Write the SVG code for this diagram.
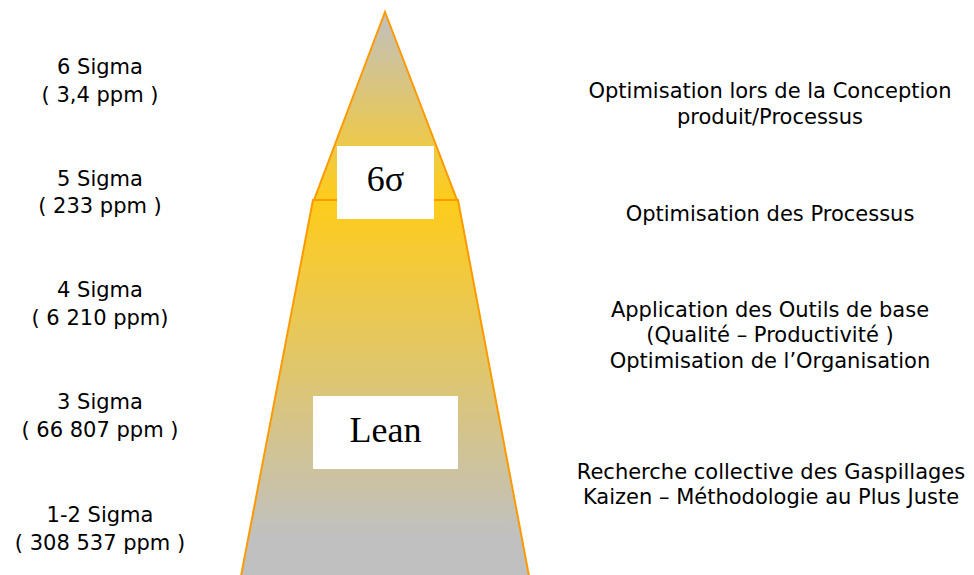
<svg xmlns="http://www.w3.org/2000/svg" width="974" height="575" viewBox="0 0 974 575">
<defs>
<linearGradient id="gTop" gradientUnits="userSpaceOnUse" x1="0" y1="12" x2="0" y2="200">
<stop offset="0" stop-color="#c0c0c0"/>
<stop offset="1" stop-color="#ffcc1a"/>
</linearGradient>
<linearGradient id="gBot" gradientUnits="userSpaceOnUse" x1="0" y1="200" x2="0" y2="575">
<stop offset="0" stop-color="#ffcc1a"/>
<stop offset="0.9" stop-color="#c0c0c0"/>
<stop offset="1" stop-color="#c0c0c0"/>
</linearGradient>
</defs>
<style>
.side{font-family:"DejaVu Sans","Verdana",sans-serif;font-size:21px;fill:#000;text-anchor:middle}
.lbl{font-family:"Liberation Serif","Times New Roman",serif;font-size:36px;fill:#000;text-anchor:middle}
.shape{stroke:#ff9900;stroke-width:2;stroke-linejoin:miter}
.box{fill:#ffffff}
</style>
<rect width="974" height="575" fill="#ffffff"/>
<g id="pyramid-lean">
<polygon class="shape" fill="url(#gBot)" points="313,200 458,200 529,576 241,576"/>
<rect class="box" x="313" y="396" width="145" height="73"/>
<text class="lbl" x="385.5" y="442">Lean</text>
</g>
<g id="pyramid-sigma">
<polygon class="shape" fill="url(#gTop)" points="385,12 457,200 314,200"/>
<rect class="box" x="337" y="146" width="97" height="73"/>
<text class="lbl" x="385.5" y="191">6σ</text>
</g>
<g id="left-labels">
<g id="l6"><text class="side" x="100" y="74">6 Sigma</text><text class="side" x="100" y="102">( 3,4 ppm )</text></g>
<g id="l5"><text class="side" x="100" y="186">5 Sigma</text><text class="side" x="100" y="213">( 233 ppm )</text></g>
<g id="l4"><text class="side" x="100" y="297">4 Sigma</text><text class="side" x="100" y="325">( 6 210 ppm)</text></g>
<g id="l3"><text class="side" x="100" y="409">3 Sigma</text><text class="side" x="100" y="437">( 66 807 ppm )</text></g>
<g id="l12"><text class="side" x="100" y="522">1-2 Sigma</text><text class="side" x="100" y="550">( 308 537 ppm )</text></g>
</g>
<g id="right-labels">
<g id="r1"><text class="side" x="770" y="98">Optimisation lors de la Conception</text><text class="side" x="770" y="124">produit/Processus</text></g>
<g id="r2"><text class="side" x="770" y="221">Optimisation des Processus</text></g>
<g id="r3"><text class="side" x="770" y="317">Application des Outils de base</text><text class="side" x="770" y="342">(Qualité – Productivité )</text><text class="side" x="770" y="368">Optimisation de l’Organisation</text></g>
<g id="r4"><text class="side" x="771" y="479">Recherche collective des Gaspillages</text><text class="side" x="771" y="504">Kaizen – Méthodologie au Plus Juste</text></g>
</g>
</svg>
